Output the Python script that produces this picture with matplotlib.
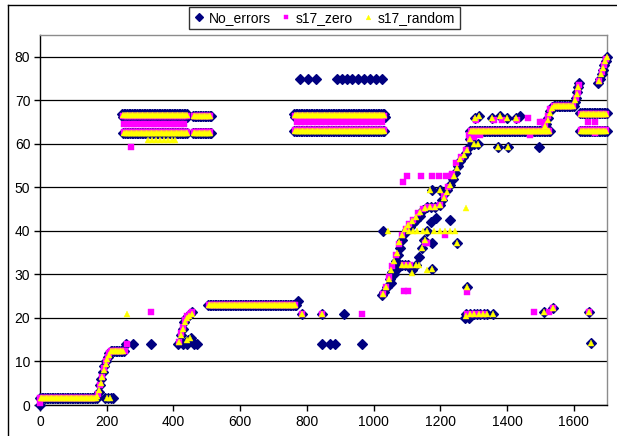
import numpy as np
import matplotlib
matplotlib.use("Agg")
import matplotlib.pyplot as plt
from matplotlib.lines import Line2D

plt.rcParams['font.family'] = ['Liberation Sans', 'DejaVu Sans']

# ---------------- data ----------------
# constant runs: (start index, end index, value, step between samples)
noerr_runs = [
    (0, 170, 1.5, 5), (212, 255, 12.3, 5), (504, 772, 23, 5),
    (246, 444, 66.8, 5), (250, 444, 66.2, 6), (250, 444, 62.5, 5),
    (459, 516, 66.5, 5), (459, 516, 62.5, 5),
    (762, 1035, 66.8, 5), (765, 1035, 66.2, 6), (762, 1035, 63, 5),
    (1290, 1530, 63, 5), (1540, 1600, 68.8, 5),
    (1620, 1700, 67, 5), (1620, 1700, 63, 5),
]
noerr_x = [0, 172, 176, 180, 184, 188, 192, 197, 203, 208, 196, 205, 212, 218,
           258, 279, 333,
           414, 420, 424, 428, 432, 437, 443, 450, 455, 430, 440, 445, 452, 462, 472,
           774, 786, 846, 846, 870, 885, 912, 966,
           780, 804, 828, 891, 906, 921, 936, 954, 972, 990, 1008, 1026,
           1025, 1032, 1040, 1048, 1055, 1062, 1068, 1074, 1080, 1086, 1093, 1101,
           1110, 1119, 1128, 1138, 1149, 1160, 1172, 1185, 1198, 1205, 1212, 1220,
           1230, 1238, 1245, 1252, 1260, 1269, 1276, 1283, 1288, 1292,
           1052, 1062, 1072, 1084, 1094, 1104, 1116, 1126, 1136, 1144, 1152, 1160, 1172, 1188,
           1029, 1176, 1251, 1176, 1230, 1176, 1200, 1281, 1374, 1404, 1497, 1300, 1312,
           1275, 1285, 1278, 1290, 1300, 1310, 1320, 1330, 1340, 1359, 1512, 1539, 1647, 1653,
           1305, 1315, 1356, 1380, 1400, 1428, 1440,
           1512, 1518, 1524, 1530, 1536,
           1603, 1608, 1611, 1614, 1617,
           1674, 1679, 1684, 1688, 1692, 1696, 1700]
noerr_y = [0, 2, 3, 4.5, 6, 7.5, 9, 10, 11, 12, 1.5, 1.5, 1.5, 1.5,
           14, 14, 14,
           14, 14.5, 16, 17.5, 19, 20, 20.5, 21, 21.3, 14, 14, 15, 15.5, 14, 14,
           24, 21, 21, 14, 14, 14, 21, 14,
           75, 75, 75, 75, 75, 75, 75, 75, 75, 75, 75, 75,
           25.3, 26, 27.2, 29, 30.5, 32, 33, 34.5, 36, 38, 39.5, 40.2,
           41, 41.8, 42.5, 43.5, 44.8, 45.5, 45.5, 45.5, 46, 47, 48.5, 49.5,
           50.5, 52, 53.3, 55, 56, 57, 58, 59, 61, 62.5,
           28, 30, 31.5, 32.2, 32.2, 32.2, 31, 32.2, 34, 36, 38, 40, 42, 43,
           40, 37.3, 37.3, 31.2, 42.5, 49.4, 49.4, 27, 59.3, 59.3, 59.3, 60, 60,
           20, 20, 21, 21, 21, 21, 21, 21, 21, 21, 21.4, 22.3, 21.4, 14.2,
           66, 66.5, 66, 66.5, 66, 66, 66.5,
           63.5, 64.5, 66, 67.5, 68.5,
           69.5, 70.5, 72, 73, 74,
           74, 75, 76, 77, 78, 79, 80]

zero_runs = [
    (0, 168, 1.5, 5), (214, 255, 12.3, 5), (506, 770, 23, 5),
    (250, 442, 66.5, 5), (252, 440, 64.5, 10), (252, 442, 62.8, 5),
    (461, 514, 66.5, 5), (461, 514, 62.8, 5),
    (765, 1032, 66.5, 5), (772, 1030, 65, 12), (765, 1032, 63.2, 5),
    (1292, 1528, 63, 5), (1542, 1598, 68.8, 5),
    (1622, 1698, 66.8, 5), (1622, 1698, 63.2, 5),
]
zero_x = [0, 174, 180, 186, 192, 198, 204, 208,
          260, 416, 424, 430, 436, 442, 450, 455,
          273, 333, 786, 846, 966,
          1028, 1036, 1046, 1056, 1066, 1076, 1086, 1096, 1106, 1118, 1132, 1148,
          1162, 1180, 1200, 1210, 1222, 1236, 1248, 1262, 1276, 1288,
          1089, 1100, 1142, 1176, 1197, 1218, 1233, 1215, 1155, 1160, 1092, 1104, 1281,
          1482, 1464, 1500, 1509, 1644, 1665, 1665, 1285, 1300, 1318, 1470,
          1280, 1292, 1305, 1318, 1332, 1527, 1539, 1647,
          1308, 1360, 1384, 1430, 1090, 1110,
          1514, 1522, 1530, 1606, 1612, 1616, 1676, 1684, 1690, 1696]
zero_y = [0.5, 2.5, 4.5, 6.5, 8.5, 10, 11, 12,
          14, 14.5, 16.5, 18, 19.5, 20.5, 21, 21.3,
          59.3, 21.4, 21, 21, 21,
          25.5, 27, 29.5, 32, 34.5, 37, 39, 40.5, 41.5, 42.5, 44, 45,
          45.5, 45.5, 46, 48, 50, 53, 55.5, 57, 58.5, 61,
          51.3, 52.5, 52.5, 52.5, 52.5, 52.5, 52.5, 39, 37.3, 37.3, 26.2, 26.2, 26,
          21.4, 66, 65, 65, 65, 65, 62.5, 62, 61.5, 62, 62,
          21, 21, 21, 21, 21, 21.4, 22.3, 21.4,
          65.5, 65.5, 65.5, 65.5, 32.2, 32.2,
          64.5, 66.5, 68, 70.5, 72, 73.5, 74.5, 76.5, 78, 79.5]

rand_runs = [
    (2, 168, 1.5, 5), (214, 253, 12.3, 5), (506, 770, 23, 5),
    (250, 442, 66.6, 5), (252, 442, 62.5, 5),
    (461, 514, 66.5, 5), (461, 514, 62.5, 5),
    (765, 1032, 66.6, 5), (765, 1032, 63, 5),
    (1292, 1528, 63, 5), (1542, 1598, 68.8, 5),
    (1622, 1698, 66.8, 5), (1622, 1698, 63, 5),
]
rand_x = [172, 177, 182, 187, 192, 197, 202, 207, 200, 210,
          260, 418, 424, 430, 436, 442, 448, 455, 440, 450,
          324, 336, 348, 360, 372, 384, 396, 405,
          786, 846, 1044,
          1028, 1036, 1045, 1053, 1061, 1069, 1077, 1085, 1093, 1103, 1115, 1127, 1140,
          1155, 1170, 1185, 1200, 1210, 1220, 1230, 1240, 1250, 1260, 1270, 1280, 1288,
          1105, 1118, 1130, 1148, 1160, 1180, 1200, 1215, 1230, 1245,
          1278, 1161, 1176, 1251, 1653, 1170, 1200, 1116, 1136, 1281,
          1278, 1290, 1302, 1315, 1328, 1340, 1359, 1512, 1539, 1647,
          1305, 1315, 1356, 1380, 1400, 1428,
          1300, 1312, 1374, 1404,
          1084, 1096, 1108, 1126, 1146, 1154,
          1514, 1522, 1530, 1536, 1605, 1610, 1614, 1676, 1682, 1688, 1694, 1699]
rand_y = [2, 3.5, 5, 6.5, 8, 9.5, 10.5, 11.5, 1.5, 1.5,
          21, 14.5, 16, 17.5, 19, 20, 20.5, 21, 15, 15.5,
          60.8, 60.8, 60.8, 60.8, 60.8, 60.8, 60.8, 60.8,
          21, 21, 40,
          25.5, 27, 29, 31, 33, 35, 37.5, 39, 40.5, 41.3, 42.3, 43.2, 44.3,
          45.3, 45.5, 45.5, 46, 47.5, 49, 50.5, 52.5, 54.5, 56.5, 57.5, 58.5, 61,
          40, 40, 40, 40, 40, 40, 40, 40, 40, 40,
          45.3, 31, 31.2, 37.3, 14.2, 49.4, 49.4, 30.3, 32.2, 27,
          20.5, 21, 21, 21, 21, 21, 21, 21.4, 22.3, 21.4,
          66, 66.5, 66, 66.5, 66, 66,
          60, 60, 59.3, 59.3,
          32.2, 32.2, 32.2, 32.2, 36, 38,
          64, 65.5, 67, 68.3, 70, 71.5, 73, 74.5, 76, 77.5, 79, 80]

series_names = ['No_errors', 's17_zero', 's17_random']
x_ticks = [0, 200, 400, 600, 800, 1000, 1200, 1400, 1600]
y_ticks = [0, 10, 20, 30, 40, 50, 60, 70, 80]


def expand(runs, xs, ys):
    ax_, ay_ = list(xs), list(ys)
    for a, b, v, st in runs:
        idx = np.arange(a, b + 1, st)
        ax_.extend(idx.tolist())
        ay_.extend([v] * len(idx))
    return np.array(ax_), np.array(ay_)


nx, ny = expand(noerr_runs, noerr_x, noerr_y)
zx, zy = expand(zero_runs, zero_x, zero_y)
rx, ry = expand(rand_runs, rand_x, rand_y)

# ---------------- figure ----------------
fig = plt.figure(figsize=(6.17, 4.36), dpi=100)
ax = fig.add_axes([40 / 617, 1 - 405 / 436, 567 / 617, 370 / 436])

ax.set_xlim(0, 1700)
ax.set_ylim(0, 85)
ax.set_xticks(x_ticks)
ax.set_yticks(y_ticks)
ax.tick_params(axis='both', direction='out', length=4, width=1, labelsize=10,
               color='black', pad=3)
ax.yaxis.grid(True, color='black', linewidth=0.9)
ax.set_axisbelow(True)
for s in ['top', 'right']:
    ax.spines[s].set_color('#8c8c8c')
    ax.spines[s].set_linewidth(1)
for s in ['left', 'bottom']:
    ax.spines[s].set_color('black')
    ax.spines[s].set_linewidth(1)

ax.plot(nx, ny, linestyle='none', marker='D', markersize=5.0, color='#000080',
        markeredgecolor='#000080', markeredgewidth=0.9, clip_on=False,
        label=series_names[0], zorder=3)
ax.plot(zx, zy, linestyle='none', marker='s', markersize=3.8, color='#FF00FF',
        markeredgecolor='#FF00FF', markeredgewidth=0.3, clip_on=False,
        label=series_names[1], zorder=4)
ax.plot(rx, ry, linestyle='none', marker='^', markersize=4.0, color='#FFFF00',
        markeredgecolor='#FFFF00', markeredgewidth=0.3, clip_on=False,
        label=series_names[2], zorder=5)

leg = fig.legend(loc='upper center', bbox_to_anchor=(324.5 / 617, 1 - 7.0 / 436),
                 ncol=3, frameon=True, fancybox=False, fontsize=10,
                 handlelength=0.8, handletextpad=0.3, columnspacing=0.7,
                 borderpad=0.3, borderaxespad=0.0, markerscale=0.85)
leg.get_frame().set_edgecolor('black')
leg.get_frame().set_linewidth(1)

# outer chart border (left and top visible)
fig.add_artist(Line2D([8 / 617, 8 / 617], [0, 1 - 5.5 / 436], transform=fig.transFigure,
                      color='black', linewidth=1))
fig.add_artist(Line2D([8 / 617, 1], [1 - 5.5 / 436, 1 - 5.5 / 436], transform=fig.transFigure,
                      color='black', linewidth=1))

fig.savefig('out.png', dpi=100)
